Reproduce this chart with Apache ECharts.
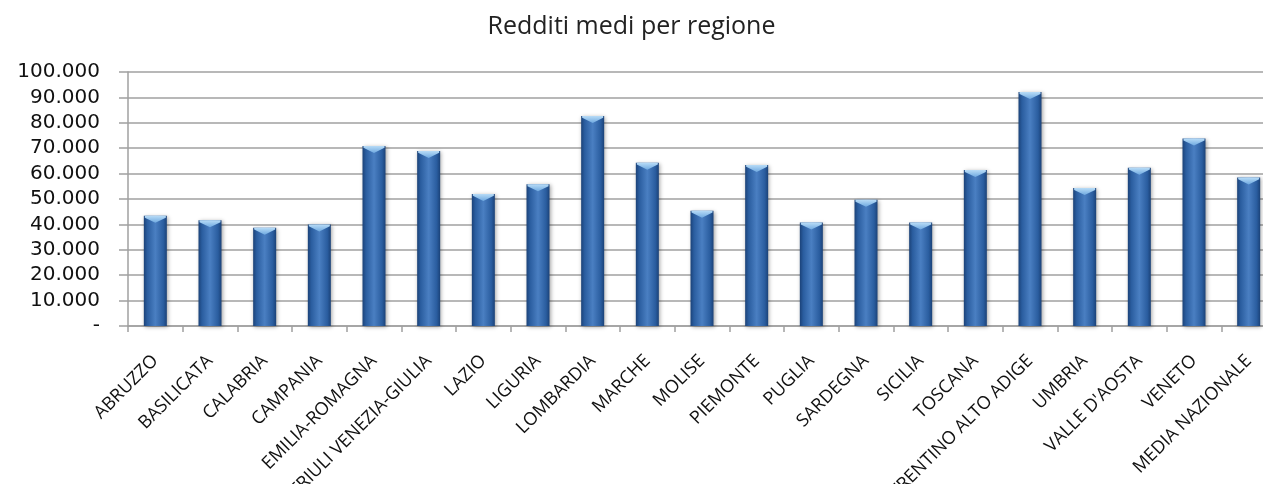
<!DOCTYPE html>
<html>
<head>
<meta charset="utf-8">
<script src="https://cdn.jsdelivr.net/npm/echarts@6/dist/echarts.min.js"></script>
<style>
html,body{margin:0;padding:0;background:#fff;}
#chart{width:1263px;height:484px;}
</style>
</head>
<body>
<div id="chart"></div>
<script>
var titleText = 'Redditi medi per regione';
var regions = ['ABRUZZO','BASILICATA','CALABRIA','CAMPANIA','EMILIA-ROMAGNA','FRIULI VENEZIA-GIULIA','LAZIO','LIGURIA','LOMBARDIA','MARCHE','MOLISE','PIEMONTE','PUGLIA','SARDEGNA','SICILIA','TOSCANA','TRENTINO ALTO ADIGE','UMBRIA',"VALLE D'AOSTA",'VENETO','MEDIA NAZIONALE'];
var redditi = [43400,41600,38700,40000,70900,68900,52000,55800,82700,64300,45400,63400,40700,49700,40700,61400,92100,54300,62300,73800,58500];
var yMin = 0, yMax = 100000, yStep = 10000;

function fmt(v){
  if (v === 0) return '-';
  return String(v).replace(/\B(?=(\d{3})+(?!\d))/g, '.');
}

var chart = echarts.init(document.getElementById('chart'), null, {renderer:'canvas'});
var gray = '#a0a0a0';
chart.setOption({
  animation:false,
  backgroundColor:'#ffffff',
  title:{
    text:titleText, left:'center', top:9,
    textStyle:{fontFamily:'Open Sans', fontSize:25, fontWeight:'normal', color:'#222'}
  },
  grid:{left:128, width:1148, top:72, height:254, containLabel:false, outerBoundsMode:'none'},
  xAxis:{
    type:'category', data:regions,
    axisLine:{lineStyle:{color:gray, width:1.5}},
    axisTick:{show:true, length:6, alignWithLabel:false, interval:0, lineStyle:{color:gray, width:1.5}},
    axisLabel:{interval:0, rotate:45, margin:32, fontFamily:'Open Sans', fontSize:18, color:'#111'}
  },
  yAxis:{
    type:'value', min:yMin, max:yMax, interval:yStep,
    axisLine:{show:true, lineStyle:{color:gray, width:1.5}},
    axisTick:{show:true, length:9, lineStyle:{color:gray, width:1.5}},
    splitLine:{show:true, lineStyle:{color:gray, width:1.5}},
    axisLabel:{formatter:fmt, margin:28, fontFamily:'DejaVu Sans', fontSize:20, color:'#111'}
  },
  series:[{
    type:'bar', data:redditi, barWidth:23, z:2,
    itemStyle:{
      color:new echarts.graphic.LinearGradient(0,0,1,0,[
        {offset:0,color:'#1b4278'},
        {offset:0.15,color:'#2a5d9f'},
        {offset:0.5,color:'#4a7fc2'},
        {offset:0.85,color:'#2a5d9f'},
        {offset:1,color:'#1b4278'}
      ]),
      shadowBlur:4, shadowColor:'rgba(0,0,0,0.35)', shadowOffsetX:1, shadowOffsetY:1
    }
  },{
    type:'pictorialBar', data:redditi, z:3,
    symbol:'path://M0,0 L10,0 L10,0.8 L5,3 L0,0.8 Z',
    symbolSize:[21,7], symbolPosition:'end',
    itemStyle:{color:new echarts.graphic.LinearGradient(0,0,0,1,[
      {offset:0,color:'#b8dcf7'},{offset:1,color:'#6fa9e0'}
    ])},
    tooltip:{show:false}
  }]
});
</script>
</body>
</html>
